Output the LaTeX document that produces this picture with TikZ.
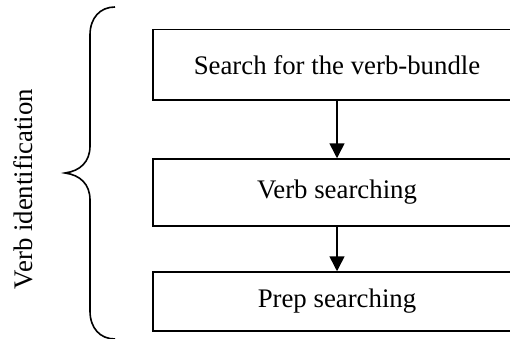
\documentclass[tikz,border=0pt]{standalone}
\usepackage{fontspec}
\setmainfont{Liberation Serif}
\usetikzlibrary{arrows.meta}
\begin{document}
\begin{tikzpicture}[x=1pt,y=-1pt,
  stagebox/.style={draw, line width=1.5pt, rectangle, minimum width=368pt,
    inner sep=0pt, font=\fontsize{26.8}{32}\selectfont},
  flowarrow/.style={line width=1.6pt, -{Triangle[width=15pt,length=15pt]}},
  bracepath/.style={line width=1.6pt}]
  \clip (0,0) rectangle (510,339);
  \fill[white] (0,0) rectangle (510,339);

  % process stages
  \node[stagebox, minimum height=70.5pt] (bundle) at (337,64.75) {Search for the verb-bundle};
  \node[stagebox, minimum height=67pt] (verb) at (337,192.5) {Verb searching};
  \node[stagebox, minimum height=59pt] (prep) at (337,301.5) {Prep searching};

  \draw[flowarrow] (bundle) -- (verb);
  \draw[flowarrow] (verb) -- (prep);

  % grouping brace
  \draw[bracepath] (115,7) .. controls (100,7) and (90,18) .. (90,35)
    -- (90,146) .. controls (90,162) and (80,171) .. (65,173)
    .. controls (80,175) and (90,184) .. (90,200)
    -- (90,311) .. controls (90,328) and (100,339) .. (115,339);

  \node[rotate=90, anchor=base, inner sep=0pt, font=\fontsize{26.8}{32}\selectfont]
    (group) at (32,189) {Verb identification};
\end{tikzpicture}
\end{document}
